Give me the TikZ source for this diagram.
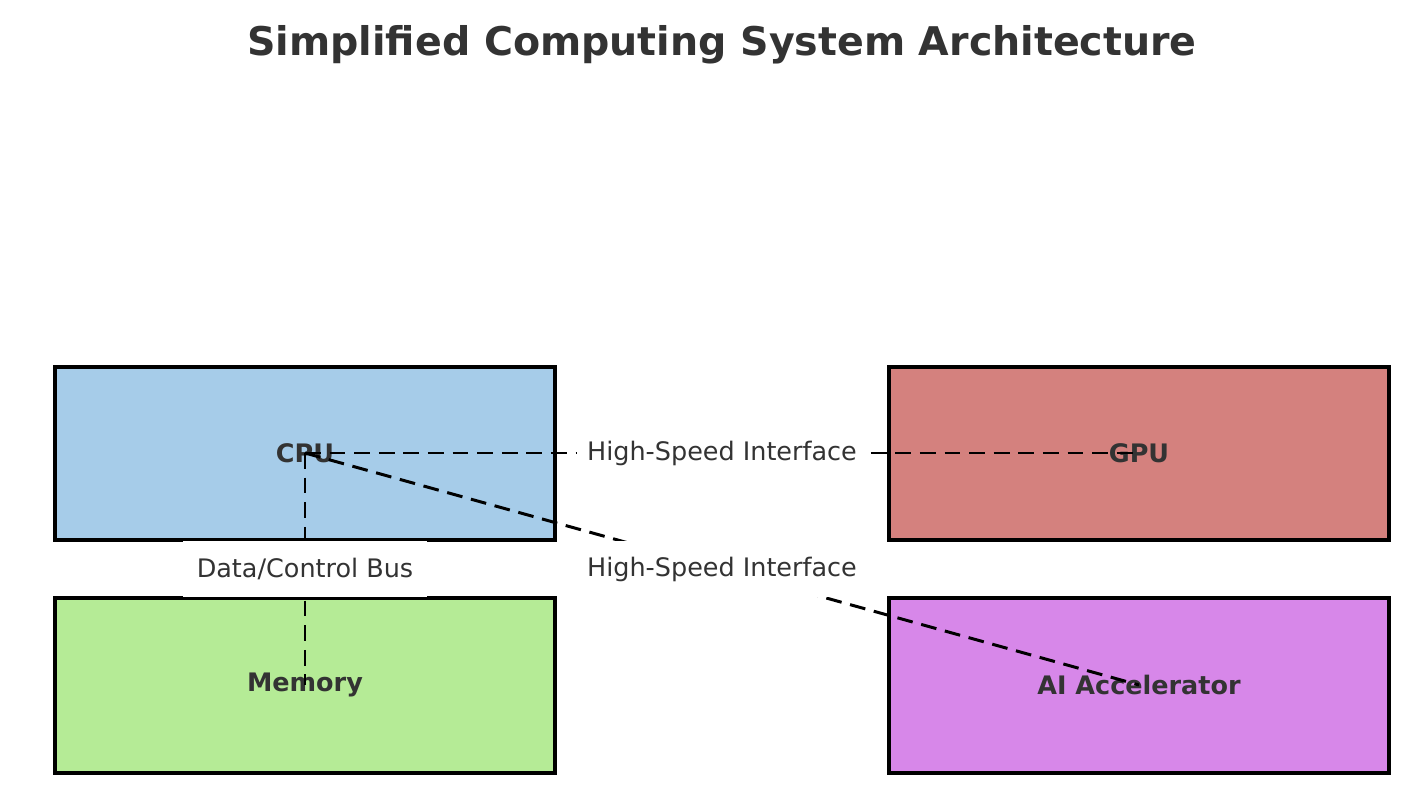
\documentclass[tikz,border=0pt]{standalone}
\usepackage{fontspec}
\setmainfont{DejaVu Sans}
\usetikzlibrary{positioning}
\definecolor{cpublue}{HTML}{A6CCE9}
\definecolor{gpured}{HTML}{D4817E}
\definecolor{memgreen}{HTML}{B5EB96}
\definecolor{aipurple}{HTML}{D787E9}
\definecolor{textgray}{HTML}{333333}
\begin{document}
\begin{tikzpicture}[
    x=0.02cm, y=-0.02cm,
    unit/.style={draw=black, line width=2.3pt, minimum width=10.02cm, minimum height=3.46cm, inner sep=0pt},
    unitlabel/.style={font=\fontsize{14.5}{16}\selectfont\bfseries, text=textgray},
    link/.style={dashed, dash pattern=on 9pt off 5pt, line width=1.7pt, black},
    linklabel/.style={fill=white, font=\fontsize{14.5}{16}\selectfont, text=textgray, inner xsep=6pt, minimum height=1.12cm}
]
    \useasboundingbox (0,0) rectangle (1422,800);
    % Title
    \node[font=\fontsize{22.5}{26}\selectfont\bfseries, text=textgray] (title) at (722,45) {Simplified Computing System Architecture};

    % Units
    \node[unit, fill=cpublue] (cpubox) at (305,453.5) {};
    \node[unit, fill=gpured] (gpubox) at (1139,453.5) {};
    \node[unit, fill=memgreen, minimum height=3.5cm] (membox) at (305,685.5) {};
    \node[unit, fill=aipurple, minimum height=3.5cm] (aibox) at (1139,685.5) {};

    % Unit names
    \node[unitlabel] (cpu) at (305,453) {CPU};
    \node[unitlabel] (gpu) at (1139,453) {GPU};
    \node[unitlabel] (mem) at (305,685) {Memory};
    \node[unitlabel] (ai) at (1139,685) {AI Accelerator};

    % Links
    \draw[link] (cpu.center) -- (gpu.center);
    \draw[link] (cpu.center) -- (ai.center);
    \draw[link] (cpu.center) -- (mem.center);

    % Link labels
    \node[linklabel] (hsgpu) at (722,453) {High-Speed Interface};
    \node[linklabel] (hsai) at (722,569) {High-Speed Interface};
    \node[linklabel, inner xsep=8pt] (bus) at (305,569) {Data/Control Bus};
\end{tikzpicture}
\end{document}
